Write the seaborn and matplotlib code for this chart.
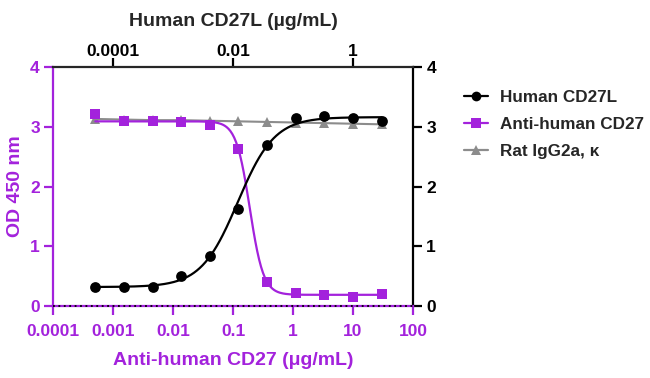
import numpy as np
import pandas as pd
import matplotlib
matplotlib.use('Agg')
import matplotlib.pyplot as plt
import seaborn as sns
from matplotlib.lines import Line2D

# data
anti_conc = [0.000508, 0.00152, 0.00457, 0.0137, 0.0412, 0.123, 0.370, 1.11, 3.33, 10, 30]
anti_od = [3.21, 3.10, 3.09, 3.08, 3.03, 2.63, 0.41, 0.22, 0.19, 0.16, 0.20]
rat_od = [3.13, 3.12, 3.11, 3.11, 3.10, 3.09, 3.08, 3.07, 3.06, 3.05, 3.04]
cd27l_conc = [0.0000508, 0.000152, 0.000457, 0.00137, 0.00412, 0.0123, 0.0370, 0.111, 0.333, 1, 3]
cd27l_od = [0.32, 0.32, 0.32, 0.50, 0.84, 1.62, 2.69, 3.14, 3.18, 3.14, 3.10]

# 4PL fit parameters (bottom, top, EC50, hill)
cd27l_fit = (0.32, 3.16, 0.012, 1.42)
anti_fit = (0.19, 3.09, 0.19, 3.8)

bottom_ticks = [1e-4, 1e-3, 1e-2, 1e-1, 1, 10, 100]
bottom_labels = ['0.0001', '0.001', '0.01', '0.1', '1', '10', '100']
top_ticks = [1e-4, 1e-2, 1]
top_labels = ['0.0001', '0.01', '1']

purple = '#A322DC'
gray = '#8C8C8C'


def fourpl(x, b, t, ec50, h):
    return b + (t - b) / (1 + (ec50 / x) ** h)


def curve(conc, params):
    xs = np.logspace(np.log10(min(conc)), np.log10(max(conc)), 300)
    return pd.DataFrame({'x': xs, 'y': fourpl(xs, *params)})


df_anti = pd.DataFrame({'x': anti_conc, 'y': anti_od})
df_rat = pd.DataFrame({'x': anti_conc, 'y': rat_od})
df_cd = pd.DataFrame({'x': cd27l_conc, 'y': cd27l_od})
cd_curve = curve(cd27l_conc, cd27l_fit)
b, t, ec, h = anti_fit
anti_curve = curve(anti_conc, (b, t, ec, -h))

sns.set_style('ticks')
plt.rcParams['font.family'] = ['Liberation Sans', 'DejaVu Sans']
plt.rcParams['font.weight'] = 'bold'
plt.rcParams['axes.labelweight'] = 'bold'

fig = plt.figure(figsize=(6.5, 3.78), dpi=100)
ax = fig.add_axes([0.0815, 0.19, 0.554, 0.633])

sns.lineplot(data=df_rat, x='x', y='y', ax=ax, color=gray, lw=1.5, marker='^',
             markersize=7, markeredgewidth=0, zorder=3)
sns.lineplot(data=anti_curve, x='x', y='y', ax=ax, color=purple, lw=1.6, zorder=4)
sns.scatterplot(data=df_anti, x='x', y='y', ax=ax, color=purple, marker='s', s=48,
                linewidth=0, zorder=5)
ax.set_xscale('log')
ax.set_xlim(1e-4, 100)
ax.set_ylim(0, 4)
ax.set_xticks(bottom_ticks)
ax.set_xticklabels(bottom_labels)
ax.xaxis.set_minor_locator(matplotlib.ticker.NullLocator())
ax.set_yticks([0, 1, 2, 3, 4])
ax.axhline(0, color='black', lw=1.3, ls=(0, (1, 2)), zorder=6, clip_on=False)

for s in ['top', 'right']:
    ax.spines[s].set_visible(False)
for s in ['left', 'bottom']:
    ax.spines[s].set_color(purple)
    ax.spines[s].set_linewidth(1.6)
ax.tick_params(colors=purple, labelcolor=purple, width=1.6, length=6.5, labelsize=12.5, pad=3)
ax.tick_params(axis='x', pad=6)
ax.set_xlabel('Anti-human CD27 (μg/mL)', color=purple, fontsize=14, labelpad=10)
ax.set_ylabel('OD 450 nm', color=purple, fontsize=14, labelpad=4)

# top axis for Human CD27L
axt = ax.twiny()
sns.lineplot(data=cd_curve, x='x', y='y', ax=axt, color='black', lw=1.6, zorder=4)
sns.scatterplot(data=df_cd, x='x', y='y', ax=axt, color='black', marker='o', s=60,
                linewidth=0, zorder=5)
axt.set_xscale('log')
axt.set_xlim(1e-5, 10)
axt.set_ylim(0, 4)
axt.set_xticks(top_ticks)
axt.set_xticklabels(top_labels)
axt.xaxis.set_minor_locator(matplotlib.ticker.NullLocator())
for s in ['left', 'right', 'bottom']:
    axt.spines[s].set_visible(False)
axt.spines['top'].set_linewidth(1.6)
axt.tick_params(axis='x', colors='black', width=1.6, length=6.5, labelsize=12.5, pad=-1)
axt.set_xlabel('Human CD27L (µg/mL)', fontsize=14, labelpad=13)
axt.set_ylabel('')

# right y axis
axr = ax.secondary_yaxis('right')
axr.set_yticks([0, 1, 2, 3, 4])
axr.spines['right'].set_linewidth(1.6)
axr.spines['right'].set_color('black')
axr.tick_params(colors='black', width=1.6, length=6.5, labelsize=12.5, pad=3)

handles = [
    Line2D([], [], color='black', marker='o', markersize=7, lw=1.6, markeredgewidth=0),
    Line2D([], [], color=purple, marker='s', markersize=6.5, lw=1.6, markeredgewidth=0),
    Line2D([], [], color=gray, marker='^', markersize=7, lw=1.6, markeredgewidth=0),
]
fig.legend(handles, ['Human CD27L', 'Anti-human CD27', 'Rat IgG2a, κ'],
           loc='upper left', bbox_to_anchor=(0.69, 0.803), frameon=False,
           fontsize=12.3, handlelength=1.4, handletextpad=0.7, labelspacing=0.72)

fig.savefig('out.png', dpi=100)
